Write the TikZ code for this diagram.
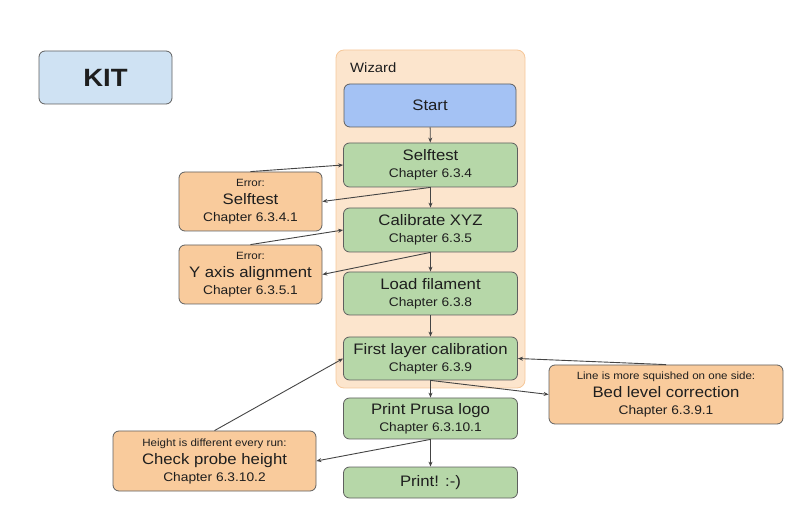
\documentclass[tikz,border=0pt]{standalone}
\usepackage{fontspec}
\setmainfont[FakeStretch=1.1]{Liberation Sans}
\usetikzlibrary{arrows.meta}
\definecolor{kitblue}{HTML}{CFE2F3}
\definecolor{startblue}{HTML}{A4C2F4}
\definecolor{stepgreen}{HTML}{B6D7A8}
\definecolor{erroryorange}{HTML}{F9CB9C}
\definecolor{wizfill}{HTML}{FCE5CD}
\definecolor{wizborder}{HTML}{F6C89A}
\definecolor{bordergray}{HTML}{5F5F5F}
\definecolor{linegray}{HTML}{444444}
\definecolor{textgray}{HTML}{1E1E1E}
\newcommand\ttl[1]{{\fontsize{15.2}{17}\selectfont #1}}
\newcommand\chp[1]{{\fontsize{12.5}{17}\selectfont #1}}
\newcommand\sml[1]{{\fontsize{10.5}{17}\selectfont #1}}
\begin{document}
\begin{tikzpicture}[x=1pt,y=-1pt,
  box/.style={draw=bordergray, line width=0.8pt, rounded corners=6pt, align=center,
    inner sep=0pt, text=textgray, font=\fontsize{12.5}{17}\selectfont},
  stepbox/.style={box, fill=stepgreen, minimum width=174pt},
  errbox/.style={box, fill=erroryorange},
  conn/.style={draw=linegray, line width=0.9pt, -{Stealth[length=5pt,width=4pt]}}]
\useasboundingbox (0,0) rectangle (790,518);
% wizard container
\node[draw=wizborder, fill=wizfill, line width=0.8pt, rounded corners=8pt,
  minimum width=189pt, minimum height=338pt, inner sep=0pt] (wiz) at (430.5,219) {};
\node[anchor=base west, inner sep=0pt, text=textgray, font=\fontsize{13.5}{16}\selectfont] (wizlabel) at (350,73) {Wizard};
% KIT
\node[box, fill=kitblue, minimum width=133pt, minimum height=53pt, font=\fontsize{25}{28}\selectfont\bfseries] (kit) at (105.5,77.5) {KIT};
% steps
\node[box, fill=startblue, minimum width=172pt, minimum height=43pt] (start) at (430,105.5) {\ttl{Start}};
\node[stepbox, minimum height=44pt] (self) at (430.5,165) {\ttl{Selftest}\\\chp{Chapter 6.3.4}};
\node[stepbox, minimum height=44pt] (cal) at (430.5,230) {\ttl{Calibrate XYZ}\\\chp{Chapter 6.3.5}};
\node[stepbox, minimum height=43pt] (load) at (430.5,293.5) {\ttl{Load filament}\\\chp{Chapter 6.3.8}};
\node[stepbox, minimum height=43pt] (first) at (430.5,358.5) {\ttl{First layer calibration}\\\chp{Chapter 6.3.9}};
\node[stepbox, minimum height=41pt] (prusa) at (430.5,418.5) {\ttl{Print Prusa logo}\\\chp{Chapter 6.3.10.1}};
\node[stepbox, minimum height=31pt] (print) at (430.5,482.5) {\ttl{Print! :-)}};
% error boxes
\node[errbox, minimum width=143pt, minimum height=59pt] (errself) at (250.5,201.5)
  {\sml{Error:}\\[1pt]\ttl{Selftest}\\\chp{Chapter 6.3.4.1}};
\node[errbox, minimum width=143pt, minimum height=59pt] (erry) at (250.5,274.5)
  {\sml{Error:}\\[1pt]\ttl{Y axis alignment}\\\chp{Chapter 6.3.5.1}};
\node[errbox, minimum width=234pt, minimum height=59pt] (bed) at (666,394.5)
  {\sml{Line is more squished on one side:}\\[1pt]\ttl{Bed level correction}\\\chp{Chapter 6.3.9.1}};
\node[errbox, minimum width=203pt, minimum height=60pt] (check) at (214.5,461)
  {\sml{Height is different every run:}\\[1pt]\ttl{Check probe height}\\\chp{Chapter 6.3.10.2}};
% main flow
\draw[conn] (start) -- (self);
\draw[conn] (self) -- (cal);
\draw[conn] (cal) -- (load);
\draw[conn] (load) -- (first);
\draw[conn] (first) -- (prusa);
\draw[conn] (prusa) -- (print);
% loops
\draw[conn] (errself.north) -- (self.west);
\draw[conn] (self.south) -- (errself.east);
\draw[conn] (erry.north) -- (cal.west);
\draw[conn] (cal.south) -- (erry.east);
\draw[conn] (bed.north) -- (first.east);
\draw[conn] (first.south) -- (bed.west);
\draw[conn] (check.north) -- (first.west);
\draw[conn] (prusa.south) -- (check.east);
\end{tikzpicture}
\end{document}
